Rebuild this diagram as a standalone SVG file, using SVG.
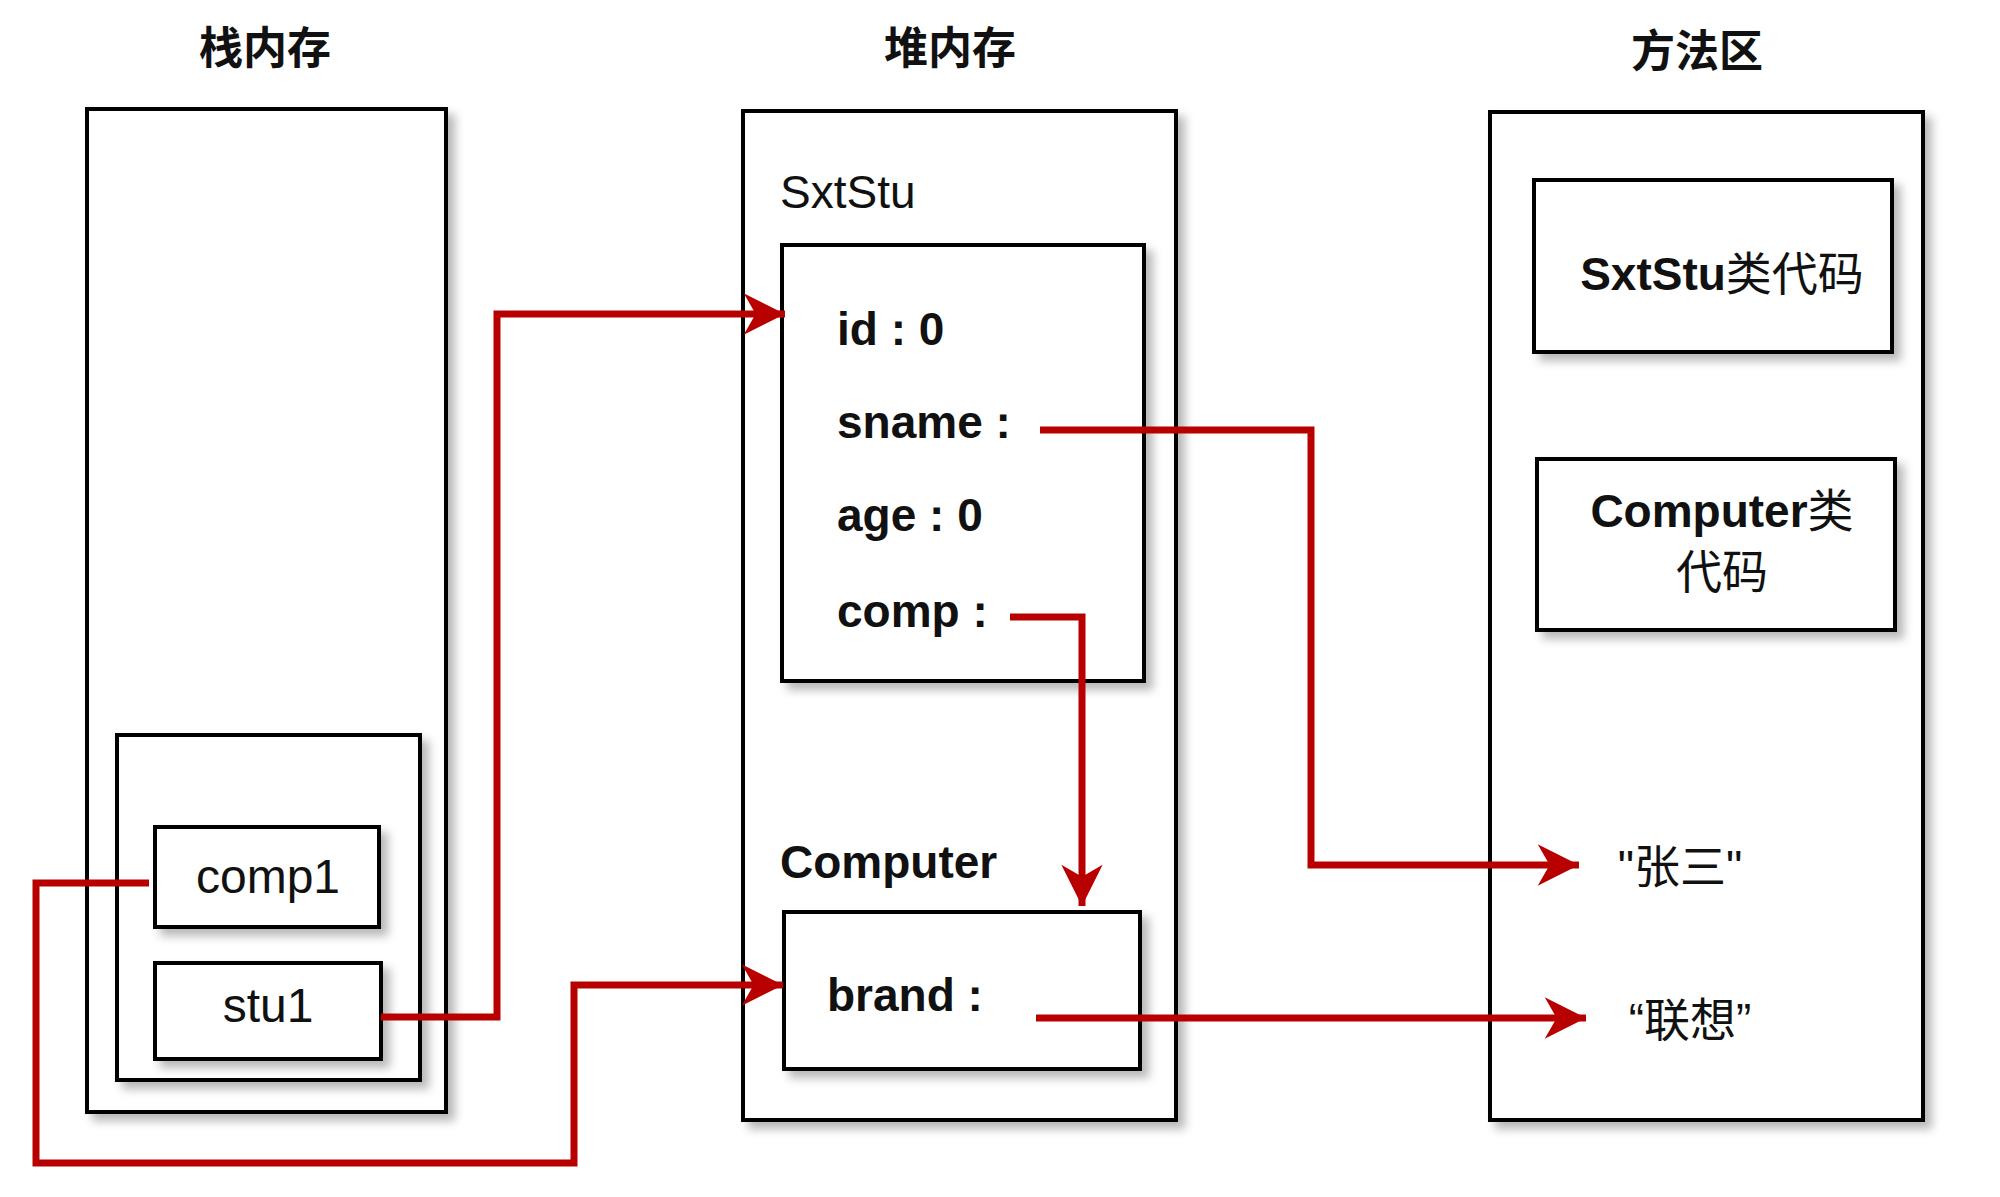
<svg xmlns="http://www.w3.org/2000/svg" width="2000" height="1197" viewBox="0 0 2000 1197">
<defs>
<filter id="sh" x="-10%" y="-10%" width="130%" height="130%">
<feDropShadow dx="7" dy="7" stdDeviation="5" flood-color="#000" flood-opacity="0.28"/>
</filter>
<marker id="arr" markerUnits="userSpaceOnUse" markerWidth="50" markerHeight="50" viewBox="-42 -22 46 44" refX="0" refY="0" orient="auto">
<path d="M0,0 L-38,-19 L-27,0 L-38,19 Z" fill="#b80000"/>
</marker>
</defs>
<style>
.box{fill:#fff;stroke:#000;stroke-width:4;filter:url(#sh)}
.t{font-family:"Liberation Sans",Arial,"Noto Sans CJK SC",sans-serif;fill:#111}
.title{font-family:"Noto Sans CJK SC","Liberation Sans",sans-serif;font-size:44px;fill:#111;text-anchor:middle;font-weight:bold}
.b{font-weight:bold}
.cjk{font-family:"Noto Sans CJK SC",sans-serif;font-weight:normal}
.c{text-anchor:middle}
.conn{fill:none;stroke:#b80000;stroke-width:7;marker-end:url(#arr)}
</style>
<rect width="2000" height="1197" fill="#fff"/>

<g id="titles">
<text class="title" x="265" y="64">栈内存</text>
<text class="title" x="950" y="64">堆内存</text>
<text class="title" x="1697" y="67">方法区</text>
</g>

<g id="stack">
<rect class="box" x="87" y="109" width="359" height="1003"/>
<rect class="box" x="117" y="735" width="303" height="345"/>
</g>
<g id="comp1">
<rect class="box" x="155" y="827" width="224" height="100"/>
<text class="t c" x="268" y="893" font-size="48">comp1</text>
</g>
<g id="stu1">
<rect class="box" x="155" y="963" width="226" height="96"/>
<text class="t c" x="268" y="1022" font-size="48">stu1</text>
</g>

<g id="heap">
<rect class="box" x="743" y="111" width="433" height="1009"/>
<text class="t" x="780" y="208" font-size="46">SxtStu</text>
<text class="t" x="780" y="878" font-size="46" font-weight="600">Computer</text>
</g>
<g id="sxtstu-obj">
<rect class="box" x="782" y="245" width="362" height="436"/>
<text class="t b" x="837" y="345" font-size="46">id : 0</text>
<text class="t b" x="837" y="438" font-size="46">sname :</text>
<text class="t b" x="837" y="531" font-size="46">age : 0</text>
<text class="t b" x="837" y="627" font-size="46">comp :</text>
</g>
<g id="computer-obj">
<rect class="box" x="784" y="912" width="356" height="157"/>
<text class="t b" x="827" y="1011" font-size="46">brand :</text>
</g>

<g id="method">
<rect class="box" x="1490" y="112" width="433" height="1008"/>
<text class="t c" x="1680" y="883" font-size="46" font-family="'Noto Sans CJK SC',sans-serif">"张三"</text>
<text class="t c" x="1690" y="1036" font-size="46" font-family="'Noto Sans CJK SC',sans-serif">“联想”</text>
</g>
<g id="sxtstu-code">
<rect class="box" x="1534" y="180" width="358" height="172"/>
<text class="t b c" x="1722" y="290" font-size="46">SxtStu<tspan class="cjk">类代码</tspan></text>
</g>
<g id="computer-code">
<rect class="box" x="1537" y="459" width="358" height="171"/>
<text class="t b c" x="1722" y="527" font-size="46">Computer<tspan class="cjk">类</tspan></text>
<text class="t c cjk" x="1722" y="588" font-size="46">代码</text>
</g>

<g id="connectors">
<path class="conn" d="M381,1017 H497 V314 H785"/>
<path class="conn" d="M149,883 H36 V1163 H574 V985 H783"/>
<path class="conn" d="M1040,430 H1311 V865 H1579"/>
<path class="conn" d="M1010,617 H1082 V906"/>
<path class="conn" d="M1036,1018 H1586"/>
</g>
</svg>
